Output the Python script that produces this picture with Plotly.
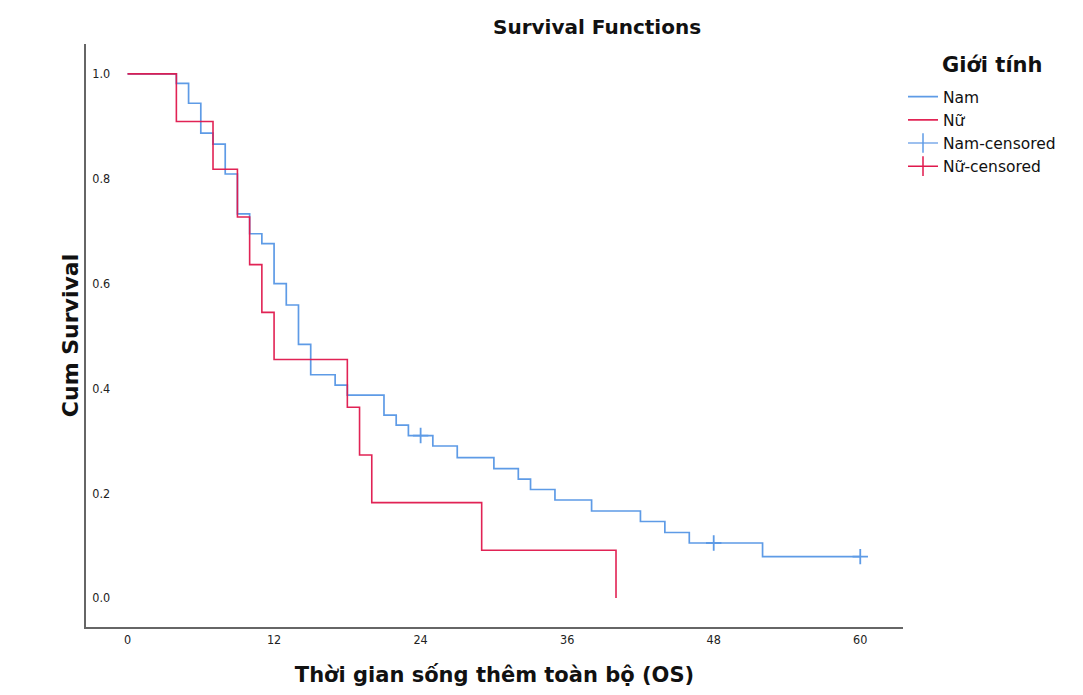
import plotly.graph_objects as go

# Kaplan-Meier data
nam_time = [0, 4, 5, 6, 7, 8, 9, 10, 11, 12, 13, 14, 15, 17, 18, 21, 22, 23, 25, 27, 30, 32, 33, 35, 38, 42, 44, 46, 52, 60]
nam_surv = [1.0, 0.982, 0.944, 0.887, 0.866, 0.809, 0.733, 0.695, 0.676, 0.600, 0.559, 0.484, 0.426, 0.406, 0.387,
            0.349, 0.330, 0.310, 0.290, 0.268, 0.247, 0.227, 0.207, 0.187, 0.166, 0.146, 0.125, 0.105, 0.079, 0.079]

nu_time = [0, 4, 7, 9, 10, 11, 12, 18, 19, 20, 29, 40]
nu_surv = [1.0, 0.909, 0.818, 0.727, 0.636, 0.545, 0.455, 0.364, 0.273, 0.182, 0.091, 0.0]

nam_cens_time = [24, 48, 60]
nam_cens_surv = [0.310, 0.105, 0.079]

x_ticks = [0, 12, 24, 36, 48, 60]
y_ticks = [0.0, 0.2, 0.4, 0.6, 0.8, 1.0]

BLUE = "#5E9BE6"
BLUE_LIGHT = "#9DC0EF"
RED = "#E0184C"

fig = go.Figure()

fig.add_trace(go.Scatter(x=nam_time, y=nam_surv, mode="lines", line=dict(shape="hv", color=BLUE, width=1.7),
                         name="Nam", hoverinfo="skip"))
fig.add_trace(go.Scatter(x=nu_time, y=nu_surv, mode="lines", line=dict(shape="hv", color=RED, width=1.6),
                         name="Nữ", hoverinfo="skip", opacity=0.95))
fig.add_trace(go.Scatter(x=nam_cens_time, y=nam_cens_surv, mode="markers",
                         marker=dict(symbol="cross-thin-open", size=11, color=BLUE,
                                     line=dict(color=BLUE, width=1.8)),
                         showlegend=False, hoverinfo="skip"))
# legend-only entries for censored symbols
fig.add_trace(go.Scatter(x=[None], y=[None], mode="lines+markers", name="Nam-censored",
                         line=dict(color=BLUE_LIGHT, width=2),
                         marker=dict(symbol="line-ns-open", size=14, color=BLUE, line=dict(color=BLUE, width=1.5))))
fig.add_trace(go.Scatter(x=[None], y=[None], mode="lines+markers", name="Nữ-censored",
                         line=dict(color=RED, width=1.5),
                         marker=dict(symbol="line-ns-open", size=14, color=RED, line=dict(color=RED, width=1.5))))

fig.add_annotation(text="<b>Giới tính</b>", xref="paper", yref="paper", x=1.1095, y=0.964,
                   xanchor="center", yanchor="middle", showarrow=False,
                   font=dict(size=21, color="#111", family="DejaVu Sans"))

fig.update_layout(
    width=1075, height=687,
    margin=dict(l=78, r=180, t=36, b=68, autoexpand=False),
    paper_bgcolor="white", plot_bgcolor="white",
    font=dict(family="DejaVu Sans", color="black"),
    title=dict(text="<b>Survival Functions</b>", x=0.548, xanchor="center", y=0.972, yanchor="middle",
               font=dict(size=20, family="DejaVu Sans", color="#111")),
    legend=dict(x=1.0, xanchor="left", y=0.938, yanchor="top",
                font=dict(size=15.5, color="#111"), tracegroupgap=0, itemwidth=30,
                bgcolor="rgba(0,0,0,0)"),
    xaxis=dict(range=[-3.4, 63.5], tickvals=x_ticks, ticktext=[str(v) for v in x_ticks],
               showgrid=False, zeroline=False, showline=True, linecolor="#666", linewidth=1.5,
               ticks="", tickfont=dict(size=12.5, family="DejaVu Sans Condensed", color="#222"),
               automargin=False,
               title=dict(text="<b>Thời gian sống thêm toàn bộ (OS)</b>", font=dict(size=21, color="#111"),
                          standoff=22)),
    yaxis=dict(range=[-0.0553, 1.057], tickvals=y_ticks, ticktext=[f"{v:.1f}" for v in y_ticks],
               showgrid=False, zeroline=False, showline=True, linecolor="#666", linewidth=1.5,
               ticks="", ticklabelposition="inside", ticklabelstandoff=6, automargin=False,
               tickfont=dict(size=12.5, family="DejaVu Sans Condensed", color="#222"),
               title=dict(text="<b>Cum Survival</b>", font=dict(size=22, color="#111"), standoff=8)),
)

fig.write_html("out.html")
